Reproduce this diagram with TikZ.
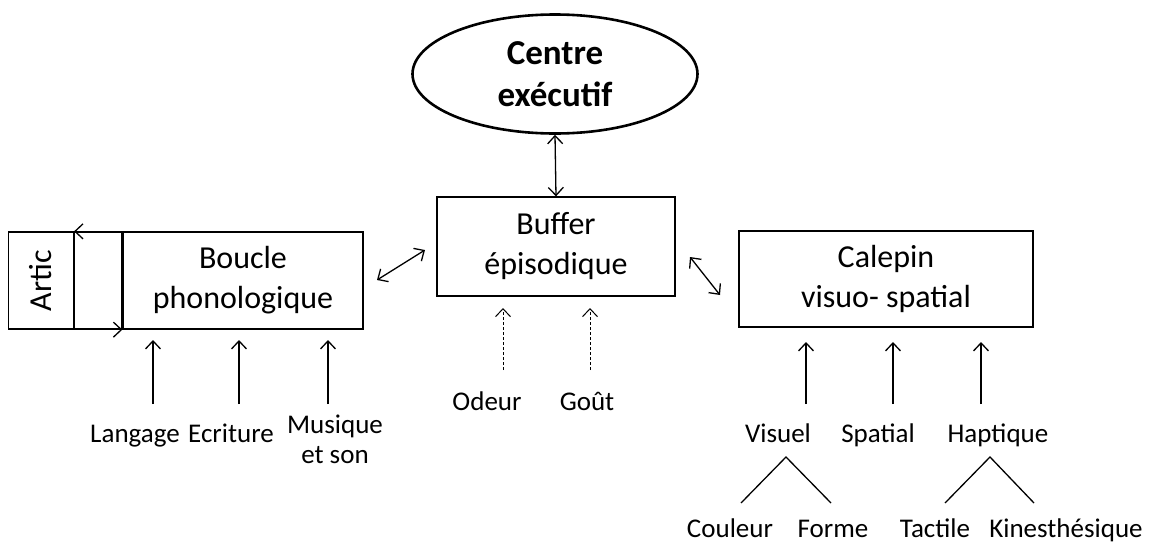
\documentclass[tikz,border=0pt]{standalone}
\usepackage{fontspec}
\setmainfont{Carlito}
\usetikzlibrary{shapes.geometric, arrows.meta, positioning}
\tikzstyle{box} = [rectangle, draw=black, line width=1.3pt, inner sep=0pt, align=center, font=\fontsize{32}{40}\selectfont]
\tikzstyle{centre} = [ellipse, draw=black, line width=2.6pt, inner sep=0pt, minimum width=285pt, minimum height=119pt, align=center, font=\fontsize{35}{42}\selectfont\bfseries]
\tikzstyle{label} = [anchor=base, inner sep=0pt, align=center, font=\fontsize{27}{30}\selectfont]
\tikzstyle{arrow} = [line width=1.3pt, -{Straight Barb[length=8pt,width=15pt]}]
\tikzstyle{darrow} = [line width=1.3pt, {Straight Barb[length=8pt,width=15pt]}-{Straight Barb[length=8pt,width=15pt]}]
\tikzstyle{dotarrow} = [arrow, line width=1pt, dash pattern=on 3pt off 2pt]
\tikzstyle{branch} = [line width=1.3pt]

\begin{document}
\begin{tikzpicture}[x=1pt,y=-1pt]
    \useasboundingbox (0,0) rectangle (1149,544);

    \node[centre] (centre) at (555,74) {Centre\\exécutif};
    \node[box, minimum width=238pt, minimum height=99pt] (buffer) at (556,246.5) {Buffer\\épisodique};

    \node[box, minimum width=240pt, minimum height=97pt] (boucle) at (243,280.5) {Boucle\\phonologique};
    \node[box, minimum width=47pt, minimum height=97pt, left=0pt of boucle] (loop) {};
    \node[box, minimum width=65pt, minimum height=97pt, left=0pt of loop] (artic) {\rotatebox{90}{Artic}};

    \node[box, minimum width=294pt, minimum height=96pt] (calepin) at (886,279) {Calepin\\visuo- spatial};

    % liens du buffer
    \draw[darrow] (centre.south) -- (buffer.north);
    \coordinate (b-left-1) at (377,280);
    \coordinate (b-left-2) at (425,250);
    \draw[darrow] (b-left-1) -- (b-left-2);
    \coordinate (b-right-1) at (690,257);
    \coordinate (b-right-2) at (720,295);
    \draw[darrow] (b-right-1) -- (b-right-2);

    % boucle articulatoire
    \draw[arrow] (loop.north east) -- (loop.north west);
    \draw[arrow] (loop.south west) -- (loop.south east);

    % entrees de la boucle
    \node[label] (langage) at (135,442) {Langage};
    \node[label] (ecriture) at (231,442) {Ecriture};
    \node[label] (musique) at (335,463) {Musique\\et son};
    \foreach \x in {153, 239, 328}
        \draw[arrow] (\x,404) -- (\x,340);

    % entrees du buffer
    \node[label] (odeur) at (487,410) {Odeur};
    \node[label] (gout) at (587,410) {Goût};
    \draw[dotarrow] (503,370) -- (503,308);
    \draw[dotarrow] (590,370) -- (590,308);

    % entrees du calepin
    \node[label] (visuel) at (778,442) {Visuel};
    \node[label] (spatial) at (878,442) {Spatial};
    \node[label] (haptique) at (998,442) {Haptique};
    \foreach \x in {806, 893, 981}
        \draw[arrow] (\x,404) -- (\x,342);

    \node[label] (couleur) at (730,537) {Couleur};
    \node[label] (forme) at (833,537) {Forme};
    \node[label] (tactile) at (935,537) {Tactile};
    \node[label] (kines) at (1066,537) {Kinesthésique};
    \draw[branch] (741,503) -- (786,457) -- (831,503);
    \draw[branch] (945,503) -- (990,457) -- (1034,503);

\end{tikzpicture}
\end{document}
